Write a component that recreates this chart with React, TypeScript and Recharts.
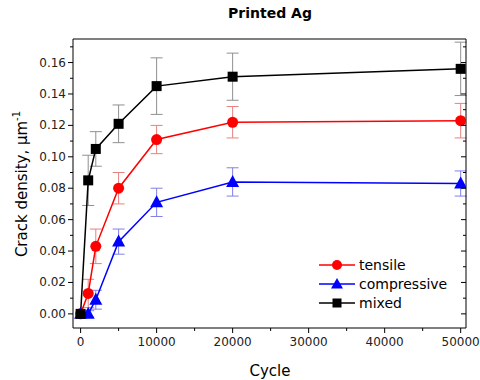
import { LineChart, Line, XAxis, YAxis, ErrorBar } from "recharts";

const cycles = [0, 1000, 2000, 5000, 10000, 20000, 50000];
const tensile = [0, 0.013, 0.043, 0.08, 0.111, 0.122, 0.123];
const tensileErr = [0, 0.009, 0.011, 0.01, 0.009, 0.01, 0.011];
const compressive = [0, 0, 0.009, 0.046, 0.071, 0.084, 0.083];
const compressiveErr = [0, 0.002, 0.006, 0.008, 0.009, 0.009, 0.008];
const mixed = [0, 0.085, 0.105, 0.121, 0.145, 0.151, 0.156];
const mixedErr = [0, 0.016, 0.011, 0.012, 0.018, 0.015, 0.017];

const xTicks = [0, 5000, 10000, 15000, 20000, 25000, 30000, 35000, 40000, 45000, 50000];
const yTicks = [0, 0.01, 0.02, 0.03, 0.04, 0.05, 0.06, 0.07, 0.08, 0.09, 0.1, 0.11, 0.12, 0.13, 0.14, 0.15, 0.16, 0.17];

const build = (vals: number[], errs: number[]) =>
  cycles.map((c, i) => ({ cycle: c, value: vals[i], err: errs[i] }));

const tensileData = build(tensile, tensileErr);
const compressiveData = build(compressive, compressiveErr);
const mixedData = build(mixed, mixedErr);

const FONT = "DejaVu Sans, Verdana, sans-serif";

const isMajorX = (v: number) => v % 10000 === 0;
const isMajorY = (v: number) => Math.round(v * 100) % 2 === 0;

const BottomTick = (props: any) => {
  const { x, y, payload } = props;
  const major = isMajorX(payload.value);
  return (
    <g>
      <line x1={x} x2={x} y1={y} y2={y + (major ? 5 : 3)} stroke="#000" />
      {major && (
        <text x={x} y={y + 18} textAnchor="middle" fontSize={12} fontFamily={FONT} fill="#222">
          {payload.value}
        </text>
      )}
    </g>
  );
};

const TopTick = (props: any) => {
  const { x, y, payload } = props;
  const major = isMajorX(payload.value);
  return <line x1={x} x2={x} y1={y} y2={y + (major ? 5 : 3)} stroke="#000" />;
};

const LeftTick = (props: any) => {
  const { x, y, payload } = props;
  const major = isMajorY(payload.value);
  return (
    <g>
      <line x1={x - (major ? 5 : 3)} x2={x} y1={y} y2={y} stroke="#000" />
      {major && (
        <text x={x - 7} y={y + 4} textAnchor="end" fontSize={12} fontFamily={FONT} fill="#222">
          {payload.value.toFixed(2)}
        </text>
      )}
    </g>
  );
};

const RightTick = (props: any) => {
  const { x, y, payload } = props;
  const major = isMajorY(payload.value);
  return <line x1={x - (major ? 5 : 3)} x2={x} y1={y} y2={y} stroke="#000" />;
};

const Circle = (props: any) => {
  const { cx, cy, index } = props;
  return <circle key={index} cx={cx} cy={cy} r={5.5} fill="#ff0000" />;
};

const Triangle = (props: any) => {
  const { cx, cy, index } = props;
  return (
    <polygon
      key={index}
      points={`${cx},${cy - 7} ${cx - 6.5},${cy + 5} ${cx + 6.5},${cy + 5}`}
      fill="#0000ff"
    />
  );
};

const Square = (props: any) => {
  const { cx, cy, index } = props;
  return <rect key={index} x={cx - 5} y={cy - 5} width={10} height={10} fill="#000" />;
};

const legendItems = [
  { name: "tensile", color: "#ff0000", shape: "circle" },
  { name: "compressive", color: "#0000ff", shape: "triangle" },
  { name: "mixed", color: "#000000", shape: "square" },
];

export default function App() {
  const axisLine = { stroke: "#000", strokeWidth: 1 };
  return (
    <div style={{ position: "absolute", left: 0, top: 0, width: 480, height: 380, background: "#fff" }}>
      <LineChart width={480} height={380} margin={{ top: 38, right: 13, bottom: 0, left: 0 }}>
        <XAxis
          xAxisId="bottom"
          dataKey="cycle"
          type="number"
          domain={[-1000, 50700]}
          allowDataOverflow
          ticks={xTicks}
          interval={0}
          height={52}
          tickSize={0}
          tickMargin={0}
          axisLine={axisLine}
          tickLine={false}
          tick={<BottomTick />}
        />
        <XAxis
          xAxisId="top"
          orientation="top"
          type="number"
          domain={[-1000, 50700]}
          allowDataOverflow
          ticks={xTicks}
          interval={0}
          height={1}
          tickSize={0}
          tickMargin={0}
          axisLine={axisLine}
          tickLine={false}
          tick={<TopTick />}
        />
        <YAxis
          yAxisId="left"
          type="number"
          domain={[-0.009, 0.175]}
          allowDataOverflow
          ticks={yTicks}
          interval={0}
          width={73}
          tickSize={0}
          tickMargin={0}
          axisLine={axisLine}
          tickLine={false}
          tick={<LeftTick />}
        />
        <YAxis
          yAxisId="right"
          orientation="right"
          type="number"
          domain={[-0.009, 0.175]}
          allowDataOverflow
          ticks={yTicks}
          interval={0}
          width={1}
          tickSize={0}
          tickMargin={0}
          axisLine={axisLine}
          tickLine={false}
          tick={<RightTick />}
        />
        <Line
          xAxisId="bottom"
          yAxisId="left"
          data={tensileData}
          dataKey="value"
          stroke="#ff0000"
          strokeWidth={1.5}
          dot={<Circle />}
          activeDot={false}
          isAnimationActive={false}
        >
          <ErrorBar dataKey="err" direction="y" width={6} stroke="#e88080" strokeWidth={1} isAnimationActive={false} />
        </Line>
        <Line
          xAxisId="bottom"
          yAxisId="left"
          data={compressiveData}
          dataKey="value"
          stroke="#0000ff"
          strokeWidth={1.5}
          dot={<Triangle />}
          activeDot={false}
          isAnimationActive={false}
        >
          <ErrorBar dataKey="err" direction="y" width={6} stroke="#8080e8" strokeWidth={1} isAnimationActive={false} />
        </Line>
        <Line
          xAxisId="bottom"
          yAxisId="left"
          data={mixedData}
          dataKey="value"
          stroke="#000000"
          strokeWidth={1.5}
          dot={<Square />}
          activeDot={false}
          isAnimationActive={false}
        >
          <ErrorBar dataKey="err" direction="y" width={6} stroke="#909090" strokeWidth={1} isAnimationActive={false} />
        </Line>
      </LineChart>
      <svg width={480} height={380} style={{ position: "absolute", left: 0, top: 0, pointerEvents: "none" }}>
        <text x={270} y={18} textAnchor="middle" fontSize={14} fontWeight="bold" fontFamily={FONT}>
          Printed Ag
        </text>
        <text x={270} y={376} textAnchor="middle" fontSize={15} fontFamily={FONT}>
          Cycle
        </text>
        <text
          transform="translate(27,184) rotate(-90)"
          textAnchor="middle"
          fontSize={15}
          fontFamily={FONT}
        >
          Crack density, μm
          <tspan fontSize={10} dy={-7}>-1</tspan>
        </text>
        {legendItems.map((item, i) => {
          const y = 265 + i * 19;
          const cx = 337;
          return (
            <g key={item.name}>
              <line x1={319} x2={355} y1={y} y2={y} stroke={item.color} strokeWidth={1.5} />
              {item.shape === "circle" && <circle cx={cx} cy={y} r={5} fill={item.color} />}
              {item.shape === "triangle" && (
                <polygon points={`${cx},${y - 6} ${cx - 6},${y + 4.5} ${cx + 6},${y + 4.5}`} fill={item.color} />
              )}
              {item.shape === "square" && <rect x={cx - 4.5} y={y - 4.5} width={9} height={9} fill={item.color} />}
              <text x={359} y={y + 5} fontSize={14} fontFamily={FONT} fill="#000">
                {item.name}
              </text>
            </g>
          );
        })}
      </svg>
    </div>
  );
}
